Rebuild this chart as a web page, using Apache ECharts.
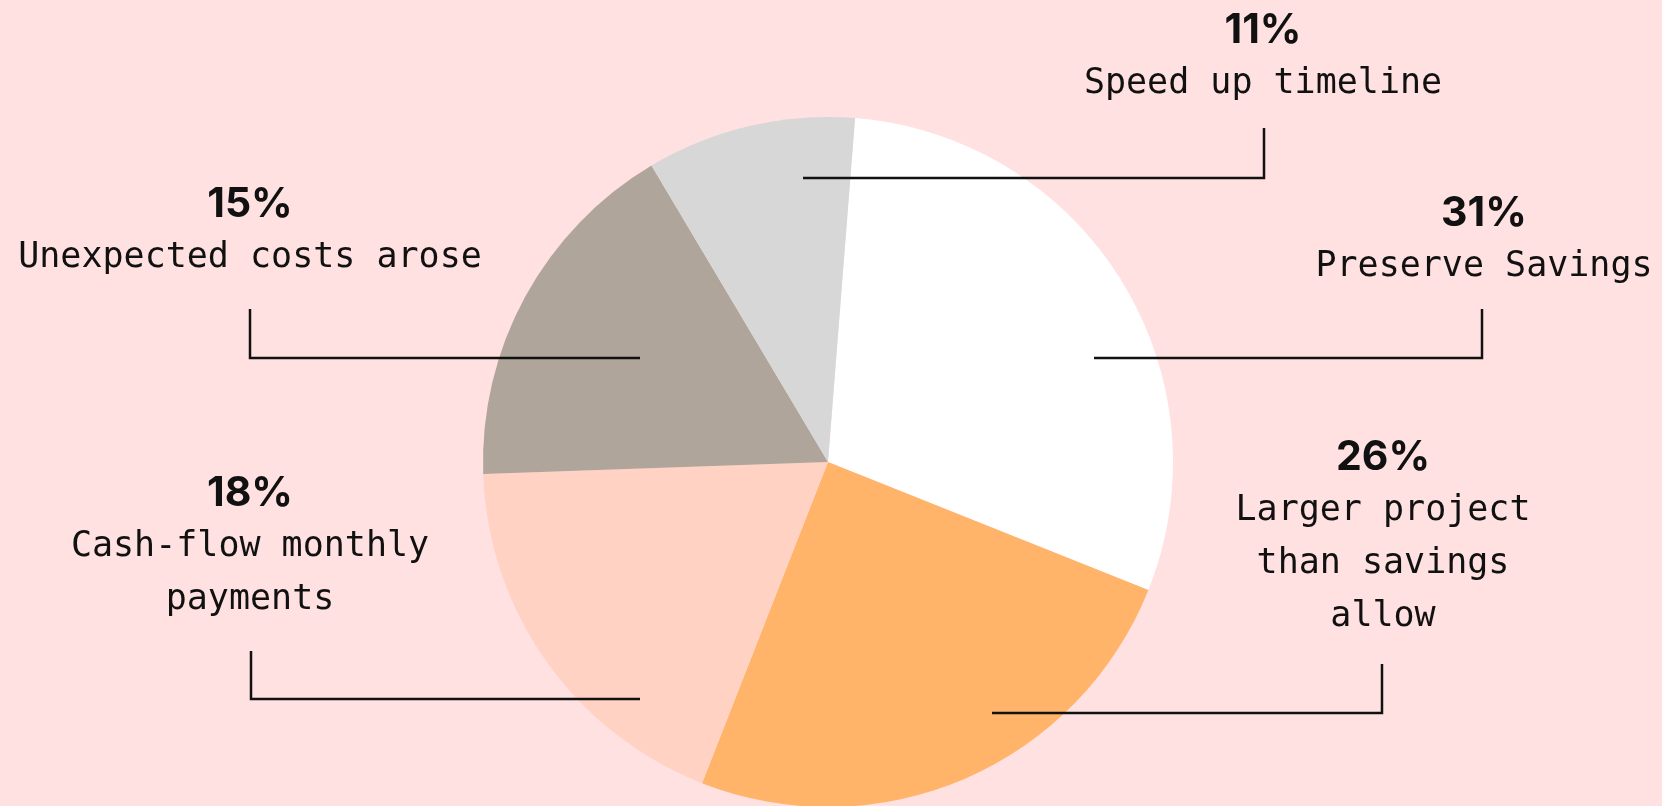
<!DOCTYPE html>
<html>
<head>
<meta charset="utf-8">
<script src="https://cdn.jsdelivr.net/npm/echarts@6/dist/echarts.min.js"></script>
<style>
  html, body { margin: 0; padding: 0; background: #ffe1e1; }
  #chart { width: 1662px; height: 806px; }
</style>
</head>
<body>
<div id="chart"></div>
<script>
// slice data (clockwise from just right of 12 o'clock)
const categories = ['Preserve Savings', 'Larger project\nthan savings\nallow', 'Cash-flow monthly\npayments', 'Unexpected costs arose', 'Speed up timeline'];
const sliceValues = [29.8, 24.9, 18.5, 17.0, 9.8]; // slice sizes as drawn
const percentLabels = ['31%', '26%', '18%', '15%', '11%']; // printed figures
const sliceColors = ['#ffffff', '#ffb469', '#ffd2c3', '#afa59b', '#d7d7d7'];

// where each callout sits: label block centre-x / top, and the elbow leader line
const labelSpots = [
  { x: 1484, y: 187, line: [[1094, 358], [1482, 358], [1482, 309]] },
  { x: 1383, y: 431, line: [[992, 713], [1382, 713], [1382, 664]] },
  { x: 250, y: 467, line: [[640, 699], [251, 699], [251, 651]] },
  { x: 250, y: 178, line: [[640, 358], [250, 358], [250, 309]] },
  { x: 1263, y: 4, line: [[803, 178], [1264, 178], [1264, 128]] }
];

const chart = echarts.init(document.getElementById('chart'));

// shared pie geometry
const pieBase = {
  type: 'pie',
  center: [828, 462],
  radius: 345,
  startAngle: 85.5,
  clockwise: true,
  avoidLabelOverlap: false,
  silent: true,
  emphasis: { disabled: true }
};

const option = {
  backgroundColor: '#ffe1e1',
  animation: false,
  series: [
    // the coloured slices
    Object.assign({}, pieBase, {
      z: 1,
      label: { show: false },
      labelLine: { show: false },
      itemStyle: { borderWidth: 0 },
      data: categories.map((name, i) => ({
        name: name,
        value: sliceValues[i],
        itemStyle: { color: sliceColors[i] }
      }))
    }),
    // transparent copy on top carrying the callouts so leader lines sit above the slices
    Object.assign({}, pieBase, {
      z: 5,
      itemStyle: { color: 'rgba(0,0,0,0)', borderWidth: 0 },
      label: {
        show: true,
        position: 'outside',
        formatter: (p) => '{p|' + percentLabels[p.dataIndex] + '}\n{n|' + p.name.split('\n').join('}\n{n|') + '}',
        rich: {
          p: { fontFamily: 'Inter', fontWeight: 'bold', fontSize: 41, lineHeight: 53, color: '#111', align: 'center' },
          n: { fontFamily: 'DejaVu Sans Mono', fontSize: 35, lineHeight: 53, color: '#111', align: 'center' }
        }
      },
      labelLine: {
        show: true,
        showAbove: true,
        lineStyle: { color: '#111', width: 2.5 }
      },
      labelLayout: (params) => {
        const spot = labelSpots[params.dataIndex];
        return {
          x: spot.x,
          y: spot.y,
          align: 'center',
          verticalAlign: 'top',
          labelLinePoints: spot.line
        };
      },
      data: categories.map((name, i) => ({ name: name, value: sliceValues[i] }))
    })
  ]
};

chart.setOption(option);
</script>
</body>
</html>
